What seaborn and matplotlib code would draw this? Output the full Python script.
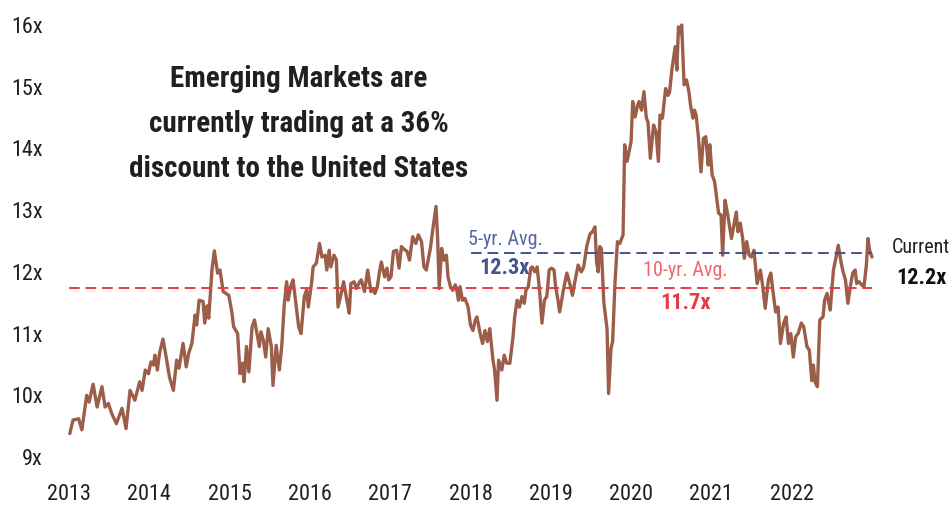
import matplotlib
matplotlib.use("Agg")
import matplotlib.pyplot as plt
import seaborn as sns
import pandas as pd
from matplotlib import font_manager as fm

# ---------------- data ----------------
dates = [
    2013.01, 2013.05, 2013.12, 2013.16, 2013.22, 2013.25, 2013.30, 2013.35, 2013.41, 2013.45,
    2013.49, 2013.53, 2013.59, 2013.66, 2013.71, 2013.76, 2013.82, 2013.88, 2013.91, 2013.95,
    2013.99, 2014.02, 2014.05, 2014.07, 2014.10, 2014.13, 2014.17, 2014.21, 2014.25, 2014.30,
    2014.34, 2014.37, 2014.42, 2014.46, 2014.49, 2014.53, 2014.57, 2014.59, 2014.62, 2014.67,
    2014.69, 2014.72, 2014.74, 2014.78, 2014.81, 2014.85, 2014.88, 2014.92, 2014.99, 2015.03,
    2015.05, 2015.10, 2015.13, 2015.16, 2015.18, 2015.21, 2015.24, 2015.28, 2015.31, 2015.34,
    2015.37, 2015.39, 2015.42, 2015.45, 2015.48, 2015.52, 2015.54, 2015.58, 2015.62, 2015.65,
    2015.68, 2015.71, 2015.73, 2015.76, 2015.79, 2015.82, 2015.86, 2015.89, 2015.93, 2015.96,
    2015.98, 2016.02, 2016.04, 2016.08, 2016.12, 2016.15, 2016.19, 2016.21, 2016.24, 2016.26,
    2016.30, 2016.33, 2016.35, 2016.39, 2016.42, 2016.46, 2016.49, 2016.51, 2016.55, 2016.58,
    2016.62, 2016.64, 2016.68, 2016.72, 2016.76, 2016.78, 2016.81, 2016.84, 2016.87, 2016.89,
    2016.93, 2016.96, 2016.98, 2017.01, 2017.04, 2017.08, 2017.11, 2017.14, 2017.16, 2017.21,
    2017.24, 2017.28, 2017.32, 2017.35, 2017.39, 2017.42, 2017.45, 2017.50, 2017.53, 2017.57,
    2017.59, 2017.61, 2017.64, 2017.67, 2017.70, 2017.72, 2017.75, 2017.78, 2017.81, 2017.83,
    2017.85, 2017.87, 2017.90, 2017.93, 2017.97, 2018.00, 2018.03, 2018.06, 2018.08, 2018.12,
    2018.15, 2018.18, 2018.21, 2018.24, 2018.28, 2018.30, 2018.33, 2018.35, 2018.39, 2018.42,
    2018.45, 2018.49, 2018.53, 2018.55, 2018.58, 2018.61, 2018.64, 2018.67, 2018.69, 2018.72,
    2018.75, 2018.77, 2018.80, 2018.83, 2018.86, 2018.89, 2018.92, 2018.95, 2018.98, 2019.01,
    2019.04, 2019.06, 2019.09, 2019.11, 2019.16, 2019.20, 2019.24, 2019.27, 2019.30, 2019.34,
    2019.38, 2019.41, 2019.45, 2019.49, 2019.52, 2019.55, 2019.57, 2019.59, 2019.61, 2019.63,
    2019.66, 2019.70, 2019.72, 2019.75, 2019.77, 2019.80, 2019.83, 2019.86, 2019.90, 2019.92,
    2019.95, 2019.97, 2020.00, 2020.02, 2020.05, 2020.08, 2020.10, 2020.13, 2020.16, 2020.19,
    2020.21, 2020.24, 2020.28, 2020.31, 2020.34, 2020.36, 2020.39, 2020.43, 2020.46, 2020.48,
    2020.51, 2020.55, 2020.57, 2020.59, 2020.61, 2020.63, 2020.66, 2020.69, 2020.72, 2020.74,
    2020.77, 2020.79, 2020.81, 2020.84, 2020.87, 2020.90, 2020.93, 2020.96, 2020.98, 2021.01,
    2021.04, 2021.07, 2021.09, 2021.12, 2021.14, 2021.17, 2021.20, 2021.25, 2021.31, 2021.33,
    2021.36, 2021.39, 2021.41, 2021.44, 2021.47, 2021.50, 2021.53, 2021.57, 2021.61, 2021.64,
    2021.67, 2021.71, 2021.74, 2021.77, 2021.80, 2021.83, 2021.86, 2021.90, 2021.93, 2021.96,
    2021.99, 2022.02, 2022.05, 2022.08, 2022.12, 2022.15, 2022.19, 2022.22, 2022.25, 2022.27,
    2022.29, 2022.32, 2022.35, 2022.39, 2022.41, 2022.44, 2022.48, 2022.52, 2022.55, 2022.58,
    2022.61, 2022.64, 2022.67, 2022.70, 2022.73, 2022.76, 2022.79, 2022.81, 2022.84, 2022.87,
    2022.90, 2022.93, 2022.95, 2022.97, 2023.00,
]
pe_ratio = [
    9.38, 9.60, 9.62, 9.44, 10.00, 9.89, 10.18, 9.81, 10.14, 9.81,
    9.87, 9.71, 9.54, 9.79, 9.46, 10.08, 9.92, 10.22, 10.08, 10.41,
    10.35, 10.54, 10.49, 10.65, 10.41, 10.70, 10.91, 10.62, 10.30, 10.08,
    10.57, 10.44, 10.84, 10.46, 10.68, 10.84, 11.30, 11.14, 11.54, 11.52,
    11.17, 11.45, 11.25, 12.03, 12.34, 11.98, 12.03, 11.68, 11.62, 11.33,
    11.11, 11.00, 10.35, 10.52, 10.22, 10.79, 10.38, 11.11, 11.22, 11.00,
    10.79, 11.03, 10.89, 10.62, 11.08, 10.79, 10.16, 10.81, 10.41, 10.81,
    11.46, 11.84, 11.54, 11.76, 11.87, 11.54, 11.11, 11.00, 11.60, 11.71,
    11.43, 11.81, 12.08, 12.14, 12.46, 12.24, 12.27, 12.03, 12.35, 12.08,
    12.27, 12.19, 11.43, 11.65, 11.84, 11.54, 11.33, 11.81, 11.84, 11.73,
    11.84, 11.87, 11.68, 12.03, 11.68, 11.73, 11.65, 11.76, 12.03, 12.16,
    11.92, 12.06, 11.87, 11.92, 12.33, 12.35, 12.06, 12.41, 12.38, 12.33,
    12.19, 12.57, 12.46, 12.60, 12.49, 12.08, 12.03, 12.38, 12.68, 13.06,
    12.57, 11.73, 12.38, 12.19, 12.27, 11.92, 11.76, 11.70, 11.79, 11.70,
    11.54, 11.76, 11.54, 11.57, 11.43, 11.14, 11.05, 11.22, 11.27, 11.00,
    10.84, 11.05, 10.87, 11.08, 10.57, 10.41, 9.92, 10.57, 10.41, 10.65,
    10.52, 10.52, 10.95, 11.27, 11.54, 11.43, 11.60, 11.49, 11.70, 11.76,
    12.06, 12.08, 12.00, 12.08, 11.70, 11.17, 11.54, 11.60, 12.03, 12.06,
    12.03, 11.76, 11.54, 11.35, 11.73, 11.98, 11.79, 11.62, 11.84, 12.11,
    12.00, 12.08, 12.43, 12.62, 12.65, 12.73, 12.16, 12.00, 12.41, 12.38,
    11.51, 11.08, 10.03, 10.76, 10.87, 11.84, 12.49, 12.46, 12.60, 14.06,
    13.79, 13.92, 14.11, 14.76, 14.51, 14.70, 14.76, 14.62, 14.92, 14.49,
    14.43, 13.84, 14.38, 14.27, 13.79, 14.54, 14.49, 14.97, 14.86, 14.92,
    15.30, 15.65, 15.27, 15.97, 15.86, 16.00, 15.03, 15.11, 14.92, 14.70,
    14.49, 14.62, 14.54, 14.16, 13.62, 14.16, 14.19, 13.73, 14.06, 13.57,
    13.46, 13.16, 12.95, 12.92, 12.27, 13.16, 12.95, 12.54, 12.97, 12.65,
    12.79, 12.54, 12.22, 12.49, 12.27, 12.24, 12.35, 11.81, 12.03, 11.76,
    11.41, 11.87, 11.98, 11.65, 11.35, 11.43, 10.84, 11.17, 11.27, 10.84,
    11.00, 10.62, 10.95, 11.00, 11.17, 11.11, 10.79, 10.73, 10.24, 10.49,
    10.22, 10.14, 11.22, 11.27, 11.54, 11.65, 11.38, 12.03, 12.22, 12.43,
    12.19, 12.00, 11.87, 11.49, 11.76, 11.98, 12.03, 11.81, 11.84, 11.79,
    11.76, 12.11, 12.54, 12.35, 12.24,
]
year_ticks = [2013, 2014, 2015, 2016, 2017, 2018, 2019, 2020, 2021, 2022]
pe_ticks = [9, 10, 11, 12, 13, 14, 15, 16]
avg_10yr = 11.74
avg_5yr = 12.3
avg_10yr_start = 2013.0
avg_5yr_start = 2018.0
series_end = 2023.0
title_lines = ["Emerging Markets are", "currently trading at a 36%", "discount to the United States"]

# ---------------- style ----------------
sns.set_theme(style="white")
entries = fm.fontManager.ttflist
names = {f.name for f in entries}
family = None
stretch = "normal"
k = 1.0
for cand in ["Roboto Condensed", "Liberation Sans Narrow", "Open Sans Condensed",
             "Noto Sans Condensed", "Arial Narrow"]:
    if cand in names:
        family = cand
        break
if family is None:
    if any(f.name == "DejaVu Sans" and str(f.stretch) in ("condensed", "semi-condensed") for f in entries):
        family = "DejaVu Sans"
        stretch = "condensed"
        k = 0.93
    else:
        family = "Roboto"
        k = 0.88
plt.rcParams["font.family"] = [family, "DejaVu Sans"]
plt.rcParams["font.stretch"] = stretch

TXT = "#231f20"
LINE = "#9c5e48"
RED = "#e83a44"
NAVY = "#44548c"

fig = plt.figure(figsize=(9.51, 5.07), dpi=100)
ax = fig.add_axes([65 / 951, 1 - 463.2 / 507, (876 - 65) / 951, (463.2 - 18.8) / 507])

df = pd.DataFrame({"date": dates, "pe": pe_ratio})
sns.lineplot(data=df, x="date", y="pe", ax=ax, color=LINE, linewidth=2.4, sort=False)

ax.hlines(avg_10yr, avg_10yr_start, series_end, colors=RED, linestyles=(0, (5.5, 3.0)), linewidth=1.4)
ax.hlines(avg_5yr, avg_5yr_start, series_end, colors=NAVY, linestyles=(0, (5.5, 3.0)), linewidth=1.4)

ax.set_xlim(2012.95, 2023.05)
ax.set_ylim(8.9, 16.1)
ax.set_xticks(year_ticks)
ax.set_xticklabels([str(y) for y in year_ticks])
ax.set_yticks(pe_ticks)
ax.set_yticklabels([f"{v}x" for v in pe_ticks])
ax.tick_params(axis="both", length=0, labelsize=16 * k, labelcolor=TXT)
ax.tick_params(axis="y", pad=16)
ax.tick_params(axis="x", pad=15)
for lab in ax.get_xticklabels() + ax.get_yticklabels():
    lab.set_fontstretch(stretch)
ax.set_xlabel("")
ax.set_ylabel("")
for s in ax.spines.values():
    s.set_visible(False)
ax.grid(False)

# annotations
common = dict(fontstretch=stretch)
ax.text(2017.97, 12.43, "5-yr. Avg.", color="#5667a0", fontsize=14.5 * k,
        ha="left", va="baseline", **common)
ax.text(2018.42, 12.06, f"{avg_5yr:.1f}x", color=NAVY, fontsize=16 * k, fontweight="bold",
        ha="center", va="center", **common)
ax.text(2020.68, 12.03, "10-yr. Avg.", color="#f0646c", fontsize=14.5 * k,
        ha="center", va="center", **common)
ax.text(2020.68, 11.49, "11.7x", color=RED, fontsize=16 * k, fontweight="bold", ha="center", va="center", **common)
ax.text(2023.61, 12.40, "Current", color=TXT, fontsize=14.5 * k,
        ha="center", va="center", clip_on=False, **common)
ax.text(2023.61, 11.90, f"{pe_ratio[-1]:.1f}x", color="#111111", fontsize=16 * k, fontweight="bold",
        ha="center", va="center", clip_on=False, **common)

for i, line in enumerate(title_lines):
    fig.text(299 / 951, 1 - (87 + 45 * i) / 507, line, ha="center", va="baseline",
             fontsize=21 * k, fontweight="bold", color=TXT, fontstretch=stretch)

fig.savefig("out.png", dpi=100)
